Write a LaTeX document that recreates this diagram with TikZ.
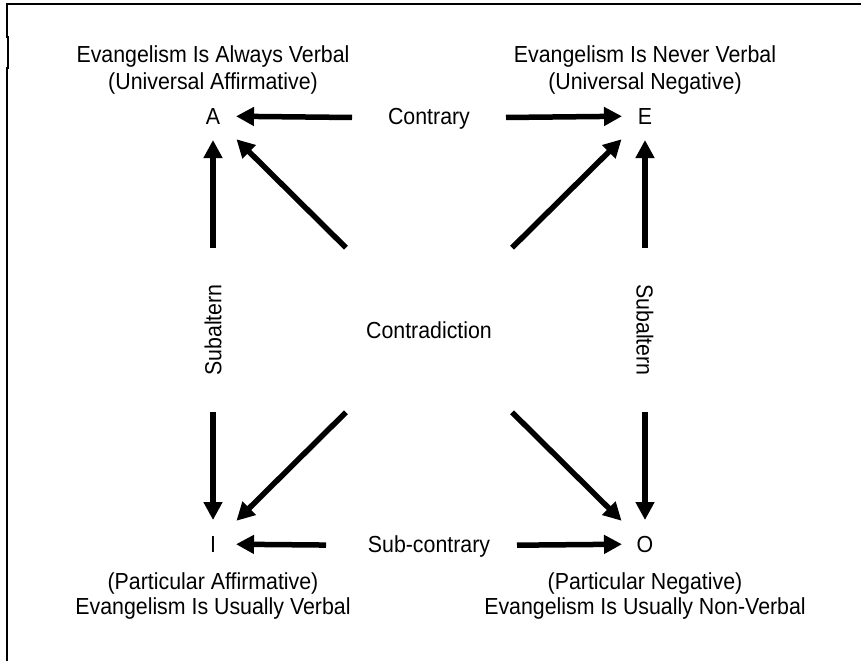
\documentclass[tikz,border=0pt]{standalone}
\usepackage{fontspec}
\setmainfont{Liberation Sans}[FakeStretch=0.92]
\usetikzlibrary{arrows.meta}
\begin{document}
\begin{tikzpicture}[x=1pt,y=-1pt,
  lbl/.style={inner sep=0pt, font=\fontsize{23.2}{26}\selectfont},
  arr/.style={line width=5.5pt, -{Triangle[length=18pt,width=18pt]}},
]
\useasboundingbox (0,0) rectangle (861,661);
% open frame: top and left edges
\draw[line width=2.5pt] (861,4) -- (7,4) -- (7,37) -- (8,37) -- (8,68) -- (7,68) -- (7,661);

% corner letters
\node[lbl, anchor=base] (A) at (213,124) {A};
\node[lbl, anchor=base] (E) at (645,124) {E};
\node[lbl, anchor=base] (I) at (213,552) {I};
\node[lbl, anchor=base] (O) at (645,552) {O};

% corner captions
\node[lbl, anchor=base] (a1) at (213,63) {Evangelism Is Always Verbal};
\node[lbl, anchor=base] (a2) at (213,89) {(Universal Affirmative)};
\node[lbl, anchor=base] (e1) at (645,63) {Evangelism Is Never Verbal};
\node[lbl, anchor=base] (e2) at (645,89) {(Universal Negative)};
\node[lbl, anchor=base] (i1) at (213,589) {(Particular Affirmative)};
\node[lbl, anchor=base] (i2) at (213,614) {Evangelism Is Usually Verbal};
\node[lbl, anchor=base] (o1) at (645,589) {(Particular Negative)};
\node[lbl, anchor=base] (o2) at (645,614) {Evangelism Is Usually Non-Verbal};

% relation labels
\node[lbl, anchor=base] (contrary) at (429,124) {Contrary};
\node[lbl, anchor=base] (subcontrary) at (429,552) {Sub-contrary};
\node[lbl] (contra) at (429,330) {Contradiction};
\node[lbl, rotate=90] (subL) at (213,330) {Subaltern};
\node[lbl, rotate=-90] (subR) at (645,330) {Subaltern};

% contrary and sub-contrary
\draw[arr, shorten <=77pt, shorten >=23pt] (contrary.center) -- (A.center);
\draw[arr, shorten <=77pt, shorten >=23pt] (contrary.center) -- (E.center);
\draw[arr, shorten <=103pt, shorten >=23pt] (subcontrary.center) -- (I.center);
\draw[arr, shorten <=88pt, shorten >=23pt] (subcontrary.center) -- (O.center);

% subalterns
\draw[arr, shorten <=82pt, shorten >=24pt] (subL.center) -- (A.center);
\draw[arr, shorten <=82pt, shorten >=24pt] (subL.center) -- (I.center);
\draw[arr, shorten <=82pt, shorten >=24pt] (subR.center) -- (E.center);
\draw[arr, shorten <=82pt, shorten >=24pt] (subR.center) -- (O.center);

% contradictions
\draw[arr, shorten <=117pt, shorten >=33pt] (contra.center) -- (A.center);
\draw[arr, shorten <=117pt, shorten >=33pt] (contra.center) -- (E.center);
\draw[arr, shorten <=117pt, shorten >=33pt] (contra.center) -- (I.center);
\draw[arr, shorten <=117pt, shorten >=33pt] (contra.center) -- (O.center);
\end{tikzpicture}
\end{document}
